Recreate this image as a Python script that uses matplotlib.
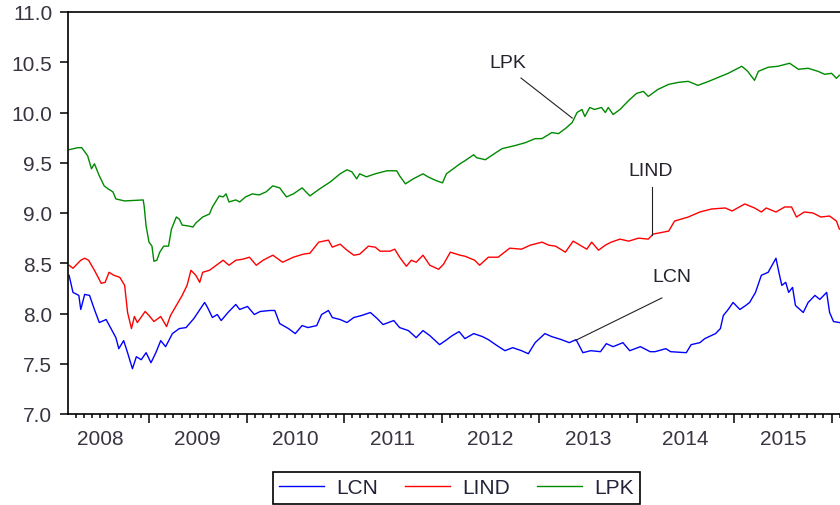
import numpy as np
import matplotlib
matplotlib.use("Agg")
from matplotlib import pyplot as plt
from matplotlib import transforms

plt.rcParams['font.family'] = ['Liberation Sans', 'DejaVu Sans']

# decimal-year time stamps and values
lcn_t = [2008.18, 2008.22, 2008.28, 2008.30, 2008.34, 2008.39, 2008.44, 2008.49, 2008.56, 2008.61,
         2008.66, 2008.69, 2008.74, 2008.78, 2008.83, 2008.87, 2008.92, 2008.97, 2009.02, 2009.07,
         2009.12, 2009.17, 2009.24, 2009.31, 2009.38, 2009.46, 2009.57, 2009.60, 2009.65, 2009.70,
         2009.74, 2009.81, 2009.89, 2009.93, 2010.01, 2010.08, 2010.14, 2010.24, 2010.29, 2010.34,
         2010.43, 2010.50, 2010.57, 2010.63, 2010.72, 2010.77, 2010.84, 2010.88, 2010.96, 2011.03,
         2011.10, 2011.18, 2011.27, 2011.34, 2011.40, 2011.51, 2011.57, 2011.66, 2011.74, 2011.81,
         2011.88, 2011.98, 2012.04, 2012.11, 2012.18, 2012.24, 2012.33, 2012.42, 2012.48, 2012.57,
         2012.65, 2012.73, 2012.82, 2012.89, 2012.96, 2013.06, 2013.13, 2013.23, 2013.31, 2013.38,
         2013.45, 2013.53, 2013.63, 2013.69, 2013.76, 2013.86, 2013.93, 2014.04, 2014.14, 2014.19,
         2014.30, 2014.35, 2014.51, 2014.56, 2014.65, 2014.70, 2014.81, 2014.86, 2014.89, 2014.94,
         2014.99, 2015.06, 2015.12, 2015.16, 2015.22, 2015.28, 2015.35, 2015.43, 2015.46, 2015.49,
         2015.53, 2015.56, 2015.60, 2015.63, 2015.71, 2015.76, 2015.83, 2015.88, 2015.95, 2015.98,
         2016.02, 2016.08]
lcn = [8.38, 8.21, 8.18, 8.04, 8.19, 8.18, 8.04, 7.91, 7.94, 7.85,
       7.76, 7.65, 7.73, 7.61, 7.45, 7.57, 7.54, 7.61, 7.51, 7.61,
       7.73, 7.67, 7.80, 7.85, 7.86, 7.95, 8.11, 8.06, 7.96, 7.99,
       7.93, 8.01, 8.09, 8.04, 8.07, 7.99, 8.02, 8.03, 8.03, 7.90,
       7.85, 7.80, 7.88, 7.86, 7.88, 7.99, 8.03, 7.96, 7.94, 7.91,
       7.96, 7.98, 8.01, 7.95, 7.89, 7.93, 7.86, 7.83, 7.76, 7.83,
       7.78, 7.69, 7.73, 7.78, 7.82, 7.75, 7.80, 7.77, 7.74, 7.68,
       7.63, 7.66, 7.63, 7.60, 7.71, 7.80, 7.77, 7.74, 7.71, 7.74,
       7.61, 7.63, 7.62, 7.70, 7.67, 7.71, 7.63, 7.67, 7.62, 7.62,
       7.65, 7.62, 7.61, 7.69, 7.71, 7.75, 7.80, 7.85, 7.98, 8.04,
       8.11, 8.04, 8.08, 8.11, 8.21, 8.38, 8.41, 8.55, 8.41, 8.28,
       8.31, 8.21, 8.26, 8.08, 8.01, 8.11, 8.18, 8.14, 8.21, 8.01,
       7.92, 7.91]

lind_t = [2008.18, 2008.22, 2008.25, 2008.30, 2008.34, 2008.38, 2008.44, 2008.51, 2008.55, 2008.59,
          2008.64, 2008.70, 2008.75, 2008.78, 2008.82, 2008.85, 2008.88, 2008.96, 2009.00, 2009.05,
          2009.12, 2009.18, 2009.22, 2009.28, 2009.34, 2009.39, 2009.43, 2009.48, 2009.52, 2009.55,
          2009.62, 2009.69, 2009.76, 2009.82, 2009.89, 2009.96, 2010.03, 2010.10, 2010.17, 2010.27,
          2010.37, 2010.48, 2010.58, 2010.65, 2010.74, 2010.84, 2010.88, 2010.96, 2011.03, 2011.10,
          2011.16, 2011.25, 2011.32, 2011.37, 2011.47, 2011.52, 2011.57, 2011.64, 2011.69, 2011.74,
          2011.81, 2011.88, 2011.97, 2012.02, 2012.09, 2012.19, 2012.24, 2012.34, 2012.39, 2012.48,
          2012.58, 2012.70, 2012.82, 2012.91, 2013.03, 2013.10, 2013.17, 2013.27, 2013.35, 2013.42,
          2013.49, 2013.54, 2013.61, 2013.68, 2013.74, 2013.83, 2013.92, 2014.02, 2014.12, 2014.17,
          2014.33, 2014.39, 2014.53, 2014.65, 2014.77, 2014.91, 2014.98, 2015.11, 2015.21, 2015.28,
          2015.33, 2015.43, 2015.52, 2015.59, 2015.64, 2015.72, 2015.81, 2015.89, 2015.98, 2016.05,
          2016.08]
lind = [8.48, 8.45, 8.48, 8.53, 8.55, 8.53, 8.43, 8.30, 8.31, 8.41,
        8.38, 8.36, 8.28, 8.01, 7.85, 7.97, 7.91, 8.02, 7.98, 7.92,
        7.97, 7.87, 7.98, 8.08, 8.18, 8.28, 8.43, 8.38, 8.31, 8.41,
        8.43, 8.48, 8.53, 8.48, 8.53, 8.54, 8.56, 8.48, 8.53, 8.58,
        8.51, 8.56, 8.59, 8.60, 8.71, 8.73, 8.66, 8.69, 8.63, 8.58,
        8.59, 8.67, 8.66, 8.62, 8.62, 8.64, 8.56, 8.47, 8.53, 8.51,
        8.58, 8.48, 8.44, 8.49, 8.61, 8.58, 8.57, 8.53, 8.48, 8.56,
        8.56, 8.65, 8.64, 8.68, 8.71, 8.68, 8.67, 8.61, 8.72, 8.68,
        8.64, 8.71, 8.63, 8.68, 8.71, 8.74, 8.72, 8.75, 8.74, 8.79,
        8.82, 8.92, 8.96, 9.01, 9.04, 9.05, 9.02, 9.09, 9.05, 9.01,
        9.05, 9.01, 9.06, 9.06, 8.96, 9.01, 9.00, 8.96, 8.97, 8.92,
        8.84]

lpk_t = [2008.18, 2008.27, 2008.31, 2008.37, 2008.41, 2008.44, 2008.49, 2008.54, 2008.58, 2008.63,
         2008.66, 2008.75, 2008.94, 2008.95, 2008.97, 2009.00, 2009.03, 2009.05, 2009.08, 2009.11,
         2009.15, 2009.20, 2009.23, 2009.28, 2009.31, 2009.34, 2009.41, 2009.45, 2009.48, 2009.55,
         2009.62, 2009.65, 2009.72, 2009.76, 2009.79, 2009.82, 2009.89, 2009.93, 2009.99, 2010.06,
         2010.13, 2010.20, 2010.27, 2010.34, 2010.41, 2010.48, 2010.57, 2010.65, 2010.75, 2010.86,
         2010.96, 2011.03, 2011.08, 2011.13, 2011.16, 2011.23, 2011.32, 2011.44, 2011.54, 2011.57,
         2011.63, 2011.71, 2011.81, 2011.86, 2011.95, 2012.01, 2012.05, 2012.12, 2012.19, 2012.24,
         2012.33, 2012.36, 2012.45, 2012.51, 2012.62, 2012.75, 2012.86, 2012.96, 2013.03, 2013.13,
         2013.20, 2013.27, 2013.34, 2013.39, 2013.44, 2013.47, 2013.52, 2013.57, 2013.64, 2013.68,
         2013.71, 2013.76, 2013.83, 2013.92, 2014.00, 2014.07, 2014.12, 2014.22, 2014.33, 2014.43,
         2014.53, 2014.63, 2014.74, 2014.84, 2014.94, 2015.08, 2015.14, 2015.21, 2015.25, 2015.35,
         2015.45, 2015.57, 2015.66, 2015.76, 2015.86, 2015.93, 2016.00, 2016.05, 2016.08]
lpk = [9.63, 9.65, 9.65, 9.57, 9.44, 9.49, 9.37, 9.27, 9.24, 9.21,
       9.14, 9.12, 9.13, 9.07, 8.87, 8.71, 8.67, 8.52, 8.53, 8.61,
       8.67, 8.67, 8.84, 8.96, 8.94, 8.88, 8.87, 8.86, 8.90, 8.96,
       8.99, 9.06, 9.17, 9.16, 9.19, 9.11, 9.13, 9.11, 9.16, 9.19,
       9.18, 9.21, 9.27, 9.25, 9.16, 9.19, 9.25, 9.17, 9.24, 9.31,
       9.39, 9.43, 9.41, 9.34, 9.39, 9.36, 9.39, 9.42, 9.42, 9.37,
       9.29, 9.34, 9.39, 9.36, 9.32, 9.30, 9.39, 9.44, 9.49, 9.52,
       9.58, 9.55, 9.53, 9.57, 9.64, 9.67, 9.70, 9.74, 9.74, 9.80,
       9.79, 9.84, 9.90, 10.00, 10.03, 9.96, 10.05, 10.03, 10.05, 10.00,
       10.05, 9.98, 10.03, 10.12, 10.19, 10.21, 10.16, 10.23, 10.28, 10.30,
       10.31, 10.27, 10.31, 10.35, 10.39, 10.46, 10.41, 10.32, 10.41, 10.45,
       10.46, 10.49, 10.43, 10.44, 10.41, 10.38, 10.39, 10.34, 10.37]

years = [2008, 2009, 2010, 2011, 2012, 2013, 2014, 2015]
y_ticks = [7.0, 7.5, 8.0, 8.5, 9.0, 9.5, 10.0, 10.5, 11.0]

tick_col = '#3a3340'
fig = plt.figure(figsize=(8.4, 5.06), dpi=100)
# axes run a little past the right edge of the picture, as in the original
ax = fig.add_axes([68 / 840, 1 - 415 / 506, (845 - 68) / 840, 402 / 506])

ax.plot(lcn_t, lcn, color='#0000ff', lw=1.0, label='LCN')
ax.plot(lind_t, lind, color='#ff0000', lw=1.0, label='LIND')
ax.plot(lpk_t, lpk, color='#008a00', lw=1.0, label='LPK')

ax.set_xlim(2008.169, 2016.138)
ax.set_ylim(7.0, 11.0)

ax.set_yticks(y_ticks)
ax.set_yticklabels(['%.1f' % v for v in y_ticks])
ax.tick_params(axis='y', direction='out', length=5.8, width=1.1, pad=5.5,
               labelsize=15, labelcolor=tick_col)

ax.set_xticks([y for y in years[1:]] + [2016])
ax.set_xticklabels([])
ax.set_xticks(np.arange(2008 + 3 / 12, 2016.15, 1 / 12), minor=True)
ax.tick_params(axis='x', which='major', direction='out', length=6.5, width=1.1)
ax.tick_params(axis='x', which='minor', direction='out', length=3.2, width=1.1)

trans = transforms.blended_transform_factory(ax.transData, ax.transAxes)
for yr in years:
    ax.text(yr + 0.5, -0.038, str(yr), transform=trans, ha='center', va='top',
            fontsize=15, color=tick_col)

for s in ax.spines.values():
    s.set_linewidth(1.2)

# annotations
ann_col = '#26222e'
ax.text(2012.68, 10.50, 'LPK', ha='center', va='center', fontsize=14, color=ann_col)
ax.plot([2012.815, 2013.34], [10.343, 9.945], color='#222222', lw=0.8)
ax.text(2014.14, 9.42, 'LIND', ha='center', va='center', fontsize=14, color=ann_col)
ax.plot([2014.16, 2014.16], [9.26, 8.78], color='#222222', lw=0.8)
ax.text(2014.36, 8.37, 'LCN', ha='center', va='center', fontsize=14, color=ann_col)
ax.plot([2014.26, 2013.37], [8.155, 7.73], color='#222222', lw=0.8)

leg = fig.legend(loc='center', bbox_to_anchor=(456.5 / 840, 1 - 489 / 506), ncol=3,
                 fontsize=15, frameon=True, fancybox=False, framealpha=1,
                 handlelength=2.15, handletextpad=0.6, columnspacing=1.3,
                 borderpad=0.3, borderaxespad=0)
leg.get_frame().set_edgecolor('black')
leg.get_frame().set_linewidth(1.2)
for t in leg.get_texts():
    t.set_color('#22223a')

fig.savefig('out.png', dpi=100)
